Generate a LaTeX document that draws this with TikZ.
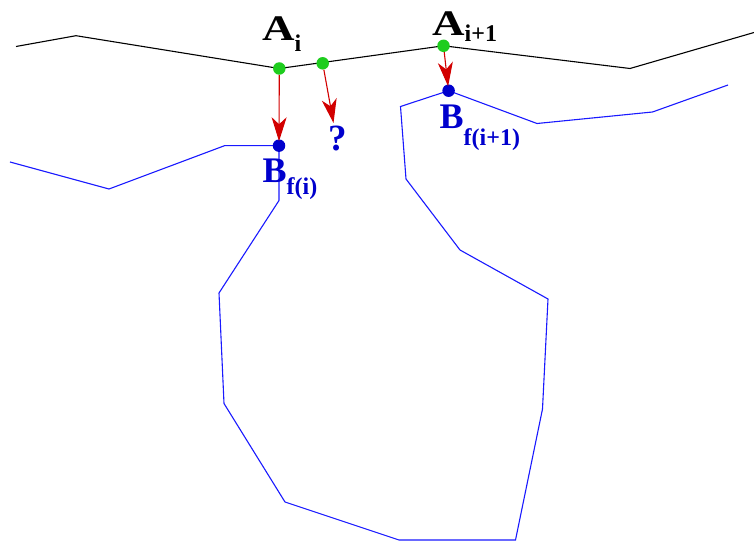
\documentclass[tikz,border=0pt]{standalone}
\usepackage{fontspec}
\setmainfont{Liberation Serif}
\usetikzlibrary{arrows.meta}
\definecolor{linblue}{RGB}{25,25,255}
\definecolor{txtblue}{RGB}{0,0,205}
\definecolor{dotblue}{RGB}{0,0,205}
\definecolor{dotgreen}{RGB}{30,205,30}
\definecolor{arrred}{RGB}{210,0,0}
\tikzset{
  blackline/.style={draw=black, line width=1.1pt, line join=miter},
  blueline/.style={draw=linblue, line width=1.1pt, line join=miter},
  gdot/.style={circle, fill=dotgreen, minimum size=12.5pt, inner sep=0pt},
  bdot/.style={circle, fill=dotblue, minimum size=12.5pt, inner sep=0pt},
  redarrow/.style={draw=arrred, line width=1.1pt,
    -{Stealth[length=24pt, width=15pt, inset=7pt, fill=arrred]}},
  lbl/.style={anchor=base west, inner sep=0pt, font=\bfseries\fontsize{36}{36}\selectfont},
}
\newcommand{\subtxt}[2]{\raisebox{#1}{\fontsize{24}{24}\selectfont #2}}
\begin{document}
\begin{tikzpicture}[x=1pt, y=-1pt]
\useasboundingbox (0,0) rectangle (754,545);
% black polyline
\draw[blackline] (16,46.5) -- (76,35.7) -- (279.3,68.5) -- (443.5,45.8) -- (630,68.5) -- (754,32.5);
% blue polylines
\draw[blueline] (10,162) -- (109,189) -- (224.5,145.7) -- (279,145.7) -- (279,200.5)
  -- (219,293) -- (224,403.5) -- (285,502) -- (399,540) -- (515.5,540) -- (542.5,409)
  -- (548,299) -- (460,250) -- (406,179) -- (400.5,106.5) -- (448.6,90.7)
  -- (537,123.5) -- (652.5,112) -- (728,85);
% dots
\node[gdot] (a1) at (279.3,68.5) {};
\node[gdot] (m) at (322.7,63.3) {};
\node[gdot] (a2) at (443.5,45.8) {};
\node[bdot] (b1) at (279,145.7) {};
\node[bdot] (b2) at (448.6,90.7) {};
\coordinate (qtip) at (333.5,123);
% arrows
\draw[redarrow, shorten >=-2pt] (a1) -- (b1);
\draw[redarrow] (m) -- (qtip);
\draw[redarrow, shorten >=-2pt] (a2) -- (b2);
% labels
\node[lbl] (la1) at (262,40.7) {\scalebox{1.25}[1]{A}\subtxt{-11pt}{i}};
\node[lbl] (la2) at (432,35.7) {\scalebox{1.25}[1]{A}\subtxt{-6pt}{i+1}};
\node[lbl, txtblue] (lb1) at (262.5,183) {B\subtxt{-12pt}{f(i)}};
\node[lbl, txtblue] (lb2) at (439.5,128.3) {B\subtxt{-17pt}{f(i+1)}};
\node[lbl, txtblue, anchor=base, font=\bfseries\fontsize{37}{37}\selectfont] (q) at (337.5,150.5) {?};
\end{tikzpicture}
\end{document}
